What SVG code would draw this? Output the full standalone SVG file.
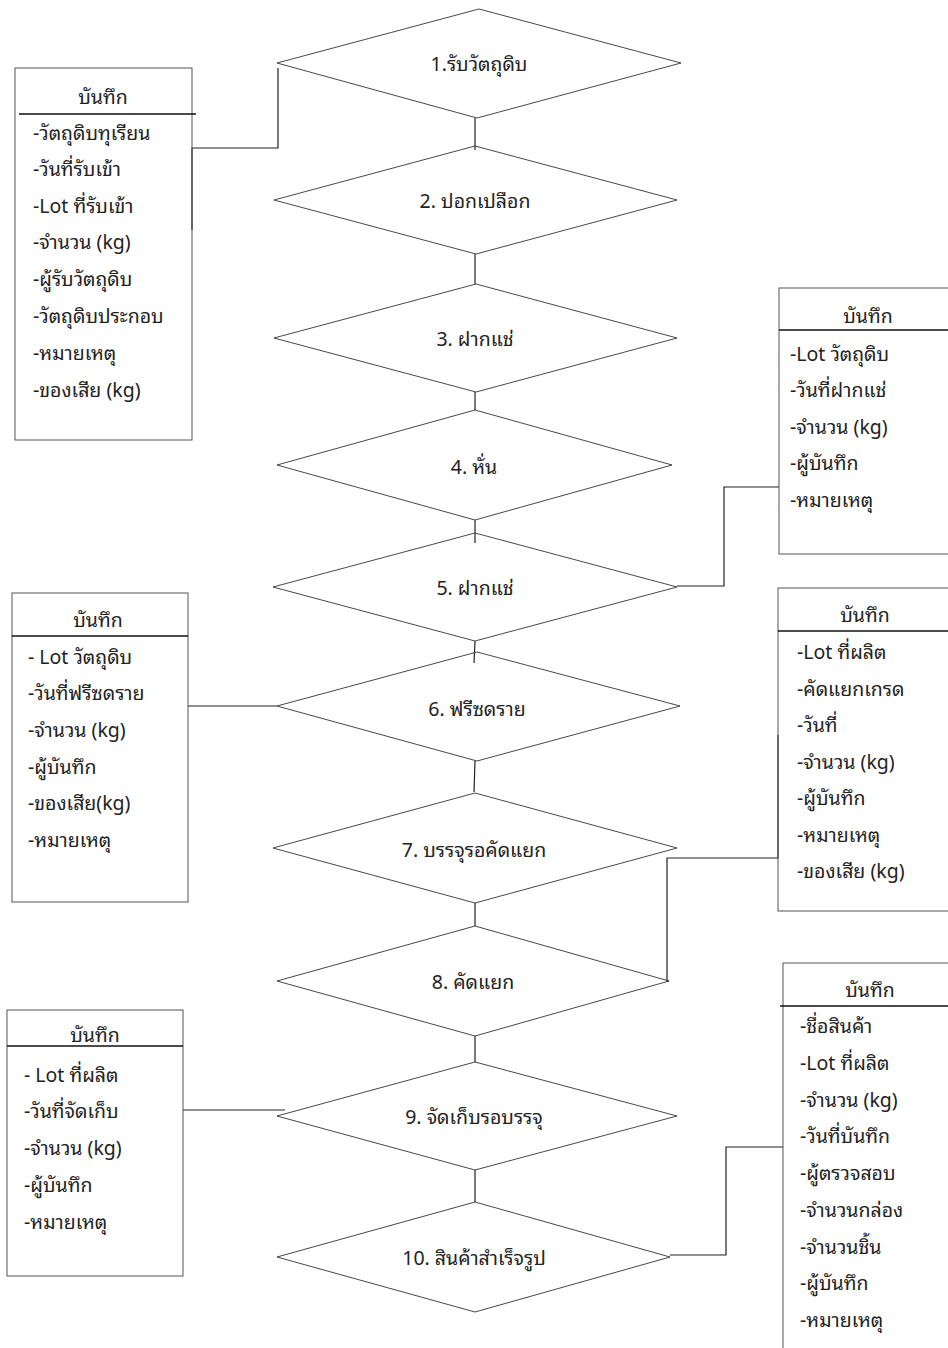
<svg xmlns="http://www.w3.org/2000/svg" width="948" height="1348" viewBox="0 0 948 1348">
<style>
.bg{fill:#fff}
.dia{fill:none;stroke:#333;stroke-width:0.9}
.box{fill:none;stroke:#555;stroke-width:1}
.hdr{stroke:#111;stroke-width:1.5}
.con{fill:none;stroke:#222;stroke-width:1.2}
text{font-family:"Noto Sans Thai Looped","Loma","Garuda","Tahoma","Noto Sans Thai","Noto Sans",sans-serif;font-size:19.5px;fill:#222}
.c{text-anchor:middle}
</style>
<rect class="bg" x="0" y="0" width="948" height="1348"/>
<g id="connectors">
<line class="con" x1="475" y1="118" x2="475" y2="150"/>
<line class="con" x1="475" y1="254" x2="475" y2="284"/>
<line class="con" x1="475" y1="392" x2="475" y2="410"/>
<line class="con" x1="475" y1="520" x2="475" y2="543"/>
<line class="con" x1="475" y1="641" x2="474" y2="663"/>
<line class="con" x1="475" y1="761" x2="474" y2="792"/>
<line class="con" x1="475" y1="903" x2="475" y2="926"/>
<line class="con" x1="475" y1="1036" x2="475" y2="1062"/>
<line class="con" x1="475" y1="1170" x2="475" y2="1202"/>
<path class="con" d="M278 68 V148 H192 V230"/>
<path class="con" d="M677 586 H724 V487 H779"/>
<line class="con" x1="188" y1="706" x2="277" y2="706"/>
<path class="con" d="M669 981 H667 V858 H778 V735"/>
<line class="con" x1="183" y1="1110" x2="285" y2="1110"/>
<path class="con" d="M670 1255 H726 V1147 H783"/>
</g>
<g id="step1"><polygon class="dia" points="479,9 681,63 477,118 277,63"/><text class="c" x="479" y="71">1.รับวัตถุดิบ</text></g>
<g id="step2"><polygon class="dia" points="475,146 677,200 476,254 274,200"/><text class="c" x="475" y="208">2. ปอกเปลือก</text></g>
<g id="step3"><polygon class="dia" points="476,284 677,338 476,392 274,338"/><text class="c" x="475" y="346">3. ฝากแช่</text></g>
<g id="step4"><polygon class="dia" points="475,410 672,465 475,520 277,465"/><text class="c" x="474" y="474">4. หั่น</text></g>
<g id="step5"><polygon class="dia" points="475,533 677,587 475,641 273,587"/><text class="c" x="475" y="595">5. ฝากแช่</text></g>
<g id="step6"><polygon class="dia" points="477,652 680,706 477,761 277,706"/><text class="c" x="477" y="716">6. ฟรีซดราย</text></g>
<g id="step7"><polygon class="dia" points="475,793 677,848 475,903 273,848"/><text class="c" x="474" y="857">7. บรรจุรอคัดแยก</text></g>
<g id="step8"><polygon class="dia" points="475,926 669,981 475,1036 277,981"/><text class="c" x="473" y="989">8. คัดแยก</text></g>
<g id="step9"><polygon class="dia" points="475,1062 677,1116 475,1170 277,1116"/><text class="c" x="474" y="1124">9. จัดเก็บรอบรรจุ</text></g>
<g id="step10"><polygon class="dia" points="475,1202 670,1257 475,1312 277,1257"/><text class="c" x="474" y="1265">10. สินค้าสำเร็จรูป</text></g>
<g id="rec1">
<rect class="box" x="15" y="68" width="177" height="372"/>
<line class="hdr" x1="19" y1="114" x2="196" y2="114"/>
<text class="c" x="103" y="104">บันทึก</text>
<text x="33" y="140">-วัตถุดิบทุเรียน</text>
<text x="33" y="176">-วันที่รับเข้า</text>
<text x="33" y="213">-Lot ที่รับเข้า</text>
<text x="33" y="249">-จำนวน (kg)</text>
<text x="33" y="286">-ผู้รับวัตถุดิบ</text>
<text x="33" y="323">-วัตถุดิบประกอบ</text>
<text x="33" y="360">-หมายเหตุ</text>
<text x="33" y="397">-ของเสีย (kg)</text>
</g>
<g id="rec2">
<rect class="box" x="779" y="288" width="175" height="266"/>
<line class="hdr" x1="779" y1="330" x2="948" y2="330"/>
<text class="c" x="868" y="323">บันทึก</text>
<text x="790" y="361">-Lot วัตถุดิบ</text>
<text x="790" y="397">-วันที่ฝากแช่</text>
<text x="790" y="434">-จำนวน (kg)</text>
<text x="790" y="470">-ผู้บันทึก</text>
<text x="790" y="507">-หมายเหตุ</text>
</g>
<g id="rec3">
<rect class="box" x="12" y="593" width="176" height="309"/>
<line class="hdr" x1="12" y1="636" x2="188" y2="636"/>
<text class="c" x="98" y="627">บันทึก</text>
<text x="28" y="664">- Lot วัตถุดิบ</text>
<text x="28" y="700">-วันที่ฟรีซดราย</text>
<text x="28" y="737">-จำนวน (kg)</text>
<text x="28" y="774">-ผู้บันทึก</text>
<text x="28" y="810">-ของเสีย(kg)</text>
<text x="28" y="847">-หมายเหตุ</text>
</g>
<g id="rec4">
<rect class="box" x="778" y="588" width="176" height="323"/>
<line class="hdr" x1="778" y1="631" x2="948" y2="631"/>
<text class="c" x="865" y="622">บันทึก</text>
<text x="797" y="659">-Lot ที่ผลิต</text>
<text x="797" y="696">-คัดแยกเกรด</text>
<text x="797" y="732">-วันที่</text>
<text x="797" y="769">-จำนวน (kg)</text>
<text x="797" y="805">-ผู้บันทึก</text>
<text x="797" y="842">-หมายเหตุ</text>
<text x="797" y="878">-ของเสีย (kg)</text>
</g>
<g id="rec5">
<rect class="box" x="7" y="1010" width="176" height="266"/>
<line class="hdr" x1="7" y1="1046" x2="183" y2="1046"/>
<text class="c" x="95" y="1042">บันทึก</text>
<text x="24" y="1082">- Lot ที่ผลิต</text>
<text x="24" y="1118">-วันที่จัดเก็บ</text>
<text x="24" y="1155">-จำนวน (kg)</text>
<text x="24" y="1192">-ผู้บันทึก</text>
<text x="24" y="1229">-หมายเหตุ</text>
</g>
<g id="rec6">
<rect class="box" x="783" y="963" width="171" height="400"/>
<line class="hdr" x1="780" y1="1006" x2="948" y2="1006"/>
<text class="c" x="870" y="997">บันทึก</text>
<text x="800" y="1033">-ชื่อสินค้า</text>
<text x="800" y="1070">-Lot ที่ผลิต</text>
<text x="800" y="1107">-จำนวน (kg)</text>
<text x="800" y="1143">-วันที่บันทึก</text>
<text x="800" y="1180">-ผู้ตรวจสอบ</text>
<text x="800" y="1217">-จำนวนกล่อง</text>
<text x="800" y="1254">-จำนวนชิ้น</text>
<text x="800" y="1290">-ผู้บันทึก</text>
<text x="800" y="1327">-หมายเหตุ</text>
</g>
</svg>
